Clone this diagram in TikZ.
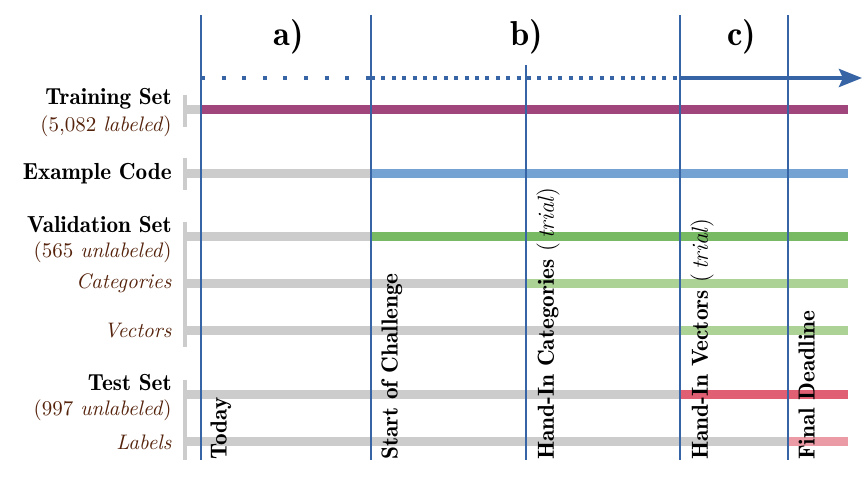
\documentclass[tikz,border=0pt]{standalone}
\usepackage{tikz}
\usetikzlibrary{arrows.meta}
\definecolor{lineblue}{RGB}{55,100,165}
\definecolor{bargray}{RGB}{204,204,204}
\definecolor{traincolor}{RGB}{160,70,125}
\definecolor{codecolor}{RGB}{116,163,211}
\definecolor{valcolor}{RGB}{120,185,100}
\definecolor{subcolor}{RGB}{172,210,150}
\definecolor{testcolor}{RGB}{225,95,115}
\definecolor{labcolor}{RGB}{235,155,165}
\definecolor{notecolor}{RGB}{85,35,12}

\begin{document}
\begin{tikzpicture}[x=0.5pt,y=-0.5pt,
		bar/.style={line width=4.5pt},
		bracket/.style={draw=bargray,line width=2pt},
		milestone/.style={draw=lineblue,line width=0.75pt},
		timeline/.style={draw=lineblue,line width=2pt},
		setname/.style={anchor=east,inner sep=0pt,font=\fontsize{11.6}{14}\fontseries{b}\selectfont},
		setnote/.style={anchor=east,inner sep=0pt,text=notecolor,font=\fontsize{10.5}{13}\selectfont},
		eventname/.style={rotate=90,anchor=north west,inner sep=0pt,font=\fontsize{11.6}{14}\fontseries{b}\selectfont},
		phase/.style={font=\LARGE\fontseries{b}\selectfont}]
		\useasboundingbox (0,0) rectangle (864,480);

		% time marks
		\coordinate (today) at (201,460);
		\coordinate (start) at (371,460);
		\coordinate (cats)  at (526,460);
		\coordinate (vecs)  at (680,460);
		\coordinate (final) at (788,460);
		\coordinate (stop)  at (848,0);
		\coordinate (top)   at (0,15);
		\coordinate (arrow) at (0,78);
		\coordinate (now)   at (862,78);

		% rows
		\coordinate (train)   at (185,110);
		\coordinate (code)    at (185,174);
		\coordinate (val)     at (185,237);
		\coordinate (valcat)  at (185,284);
		\coordinate (valvec)  at (185,331);
		\coordinate (test)    at (185,395);
		\coordinate (testlab) at (185,442);

		\foreach \row/\from/\col in {train/today/traincolor, code/start/codecolor, val/start/valcolor,
				valcat/cats/subcolor, valvec/vecs/subcolor, test/vecs/testcolor, testlab/final/labcolor}{
			\draw[bar,bargray] (\row) -- (\from |- \row);
			\draw[bar,\col] (\from |- \row) -- (stop |- \row);
		}

		\draw[bracket] (185,95) -- (185,127);
		\draw[bracket] (185,158) -- (185,190);
		\draw[bracket] (185,222) -- (185,347);
		\draw[bracket] (185,380) -- (185,460);

		\foreach \t in {today,start,vecs,final}
			\draw[milestone] (\t |- top) -- (\t);
		\draw[milestone] (cats |- 0,65) -- (cats);

		\draw[timeline,dash pattern=on 2pt off 8.3pt] (today |- arrow) -- (start |- arrow);
		\draw[timeline,dash pattern=on 2pt off 3.2pt] (start |- arrow) -- (vecs |- arrow);
		\draw[timeline,-{Stealth[length=11.5pt,width=9pt,inset=2pt]}] (vecs |- arrow) -- (now);

		\node[phase] (pa) at (289,37) {a)};
		\node[phase] (pb) at (527,37) {b)};
		\node[phase] (pc) at (742,37) {c)};

		\node[setname] (trainLbl)  at (172,99)  {Training Set};
		\node[setnote] (trainNote) at (172,126) {(5,082 \textit{labeled})};
		\node[setname] (codeLbl)   at (172,174) {Example Code};
		\node[setname] (valLbl)    at (172,225) {Validation Set};
		\node[setnote] (valNote)   at (172,252) {(565 \textit{unlabeled})};
		\node[setnote] (catLbl)    at (172,283) {\textit{Categories}};
		\node[setnote] (vecLbl)    at (172,331) {\textit{Vectors}};
		\node[setname] (testLbl)   at (172,383) {Test Set};
		\node[setnote] (testNote)  at (172,410) {(997 \textit{unlabeled})};
		\node[setnote] (labLbl)    at (172,442) {\textit{Labels}};

		\node[eventname] (todayLbl) at ([xshift=4.5pt]today) {Today};
		\node[eventname] (startLbl) at ([xshift=5pt]start) {Start of Challenge};
		\node[eventname] (catsLbl)  at ([xshift=5pt]cats)  {Hand-In Categories \textmd{(\,\textit{trial})}};
		\node[eventname] (vecsLbl)  at ([xshift=5pt]vecs)  {Hand-In Vectors \textmd{(\,\textit{trial})}};
		\node[eventname] (finalLbl) at ([xshift=5pt]final) {Final Deadline};
	\end{tikzpicture}
\end{document}
